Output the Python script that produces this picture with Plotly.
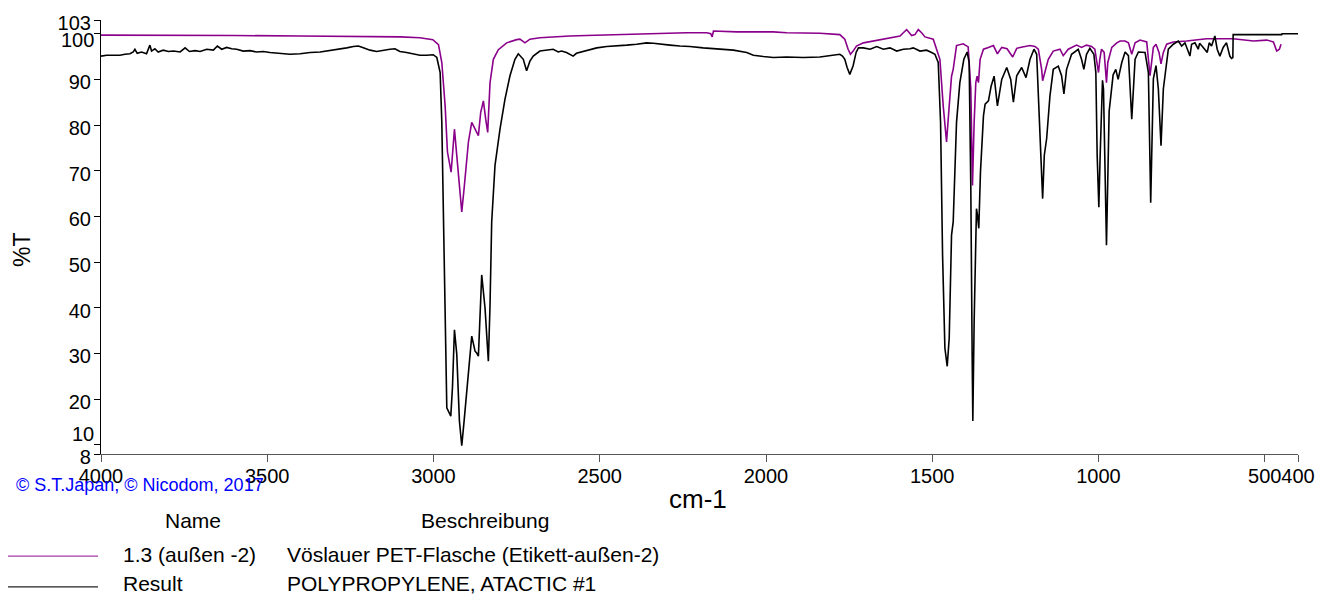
import plotly.graph_objects as go

# ---------------- data ----------------
# Sample "1.3 (außen -2)" (purple)
wn_sample = [4000, 3800, 3600, 3400, 3200, 3100, 3041, 3002, 2985, 2975, 2965, 2958, 2947, 2942,
             2937, 2930, 2922, 2915, 2908, 2895, 2885, 2875, 2865, 2858, 2850, 2843, 2837, 2830,
             2820, 2805, 2780, 2750, 2740, 2725, 2710, 2680, 2640, 2590, 2540, 2440, 2339, 2239,
             2178, 2166, 2162, 2158, 2088, 2038, 1978, 1938, 1838, 1778, 1763, 1753, 1746, 1738,
             1728, 1707, 1677, 1637, 1597, 1587, 1577, 1569, 1562, 1552, 1542, 1532, 1522, 1497,
             1477, 1467, 1457, 1449, 1442, 1437, 1427, 1407, 1392, 1384, 1379, 1374, 1369, 1365,
             1361, 1356, 1346, 1331, 1316, 1304, 1291, 1275, 1258, 1246, 1236, 1206, 1191, 1181,
             1171, 1168, 1161, 1151, 1136, 1116, 1106, 1091, 1066, 1051, 1036, 1021, 1011, 1004,
             1000, 996, 991, 983, 976, 972, 960, 945, 935, 920, 910, 900, 890, 875, 855, 845,
             835, 827, 818, 812, 805, 795, 775, 735, 675, 595, 534, 494, 474, 464, 456, 451]
t_sample = [99.7, 99.7, 99.6, 99.5, 99.4, 99.3, 99.1, 98.7, 97.6, 93.7, 84.2, 74.1, 69.7, 74.8,
            79.1, 73.3, 66.1, 61.0, 66.1, 76.3, 80.6, 79.1, 77.7, 82.8, 85.3, 81.3, 78.4, 89.3,
            94.4, 96.5, 98.0, 98.7, 98.8, 98.0, 98.8, 99.1, 99.3, 99.5, 99.6, 99.8, 100.1, 100.2,
            100.2, 100.0, 99.3, 100.6, 100.4, 100.4, 100.4, 100.2, 100.1, 99.8, 98.8, 96.6, 95.5, 96.2,
            97.3, 98.0, 98.4, 98.9, 99.5, 100.2, 100.9, 100.2, 99.6, 99.8, 100.9, 100.2, 99.3, 98.8,
            94.4, 84.2, 76.3, 84.2, 90.7, 92.2, 97.4, 97.8, 97.1, 87.9, 66.8, 80.6, 89.3, 90.7,
            89.3, 94.4, 96.6, 97.0, 97.4, 95.6, 97.0, 96.7, 94.9, 96.8, 97.0, 97.4, 97.2, 96.6,
            92.2, 89.7, 91.5, 94.4, 96.2, 96.6, 95.2, 96.6, 97.5, 97.0, 97.5, 97.2, 96.6, 93.7,
            91.5, 94.4, 96.6, 95.9, 89.3, 93.7, 97.0, 98.0, 98.4, 98.4, 98.0, 95.5, 98.0, 98.6, 98.2, 90.8,
            97.0, 97.7, 95.9, 93.4, 95.9, 97.7, 98.2, 98.4, 98.9, 98.9, 98.4, 98.6, 98.2, 96.2, 96.6, 97.7]

# Library reference "Result" (black)
wn_result = [4000, 3983, 3963, 3943, 3928, 3913, 3903, 3898, 3891, 3878, 3863, 3853, 3848, 3838,
             3828, 3813, 3797, 3782, 3762, 3747, 3734, 3717, 3702, 3682, 3662, 3650, 3637, 3622,
             3607, 3592, 3572, 3552, 3532, 3512, 3492, 3462, 3432, 3401, 3371, 3341, 3311, 3281,
             3261, 3241, 3226, 3211, 3191, 3171, 3151, 3131, 3116, 3101, 3081, 3061, 3041, 3021,
             3001, 2990, 2980, 2975, 2970, 2965, 2960, 2948, 2943, 2937, 2930, 2922, 2915, 2908,
             2895, 2885, 2875, 2870, 2865, 2860, 2855, 2845, 2835, 2830, 2825, 2815, 2800, 2785,
             2770, 2755, 2745, 2730, 2720, 2710, 2700, 2680, 2660, 2640, 2625, 2615, 2600, 2590,
             2580, 2570, 2555, 2540, 2509, 2479, 2449, 2419, 2389, 2359, 2339, 2319, 2289, 2259,
             2229, 2189, 2138, 2098, 2058, 2038, 2008, 1978, 1938, 1888, 1838, 1798, 1778, 1770,
             1763, 1756, 1748, 1738, 1729, 1722, 1707, 1687, 1667, 1647, 1627, 1607, 1587, 1567,
             1557, 1537, 1517, 1502, 1492, 1482, 1475, 1469, 1462, 1455, 1449, 1442, 1437, 1427,
             1417, 1405, 1395, 1389, 1384, 1380, 1378, 1374, 1370, 1367, 1364, 1360, 1355, 1346,
             1341, 1331, 1323, 1314, 1304, 1291, 1276, 1264, 1256, 1246, 1231, 1218, 1206, 1194,
             1186, 1178, 1171, 1168, 1163, 1156, 1146, 1136, 1121, 1111, 1104, 1096, 1081, 1061,
             1051, 1044, 1036, 1026, 1014, 1008, 1004, 999, 995, 988, 985, 981, 976, 968,
             956, 948, 941, 930, 920, 910, 900, 890, 880, 860, 850, 843, 835, 827,
             820, 812, 805, 790, 775, 760, 750, 740, 725, 720, 710, 700, 696, 685,
             673, 667, 660, 650, 643, 635, 625, 615, 605, 600, 596, 595, 449, 448, 400]
t_result = [95.1, 95.3, 95.3, 95.3, 95.5, 95.6, 96.0, 96.6, 95.7, 96.0, 95.6, 97.5, 96.2, 96.7,
            96.0, 96.4, 96.1, 96.2, 96.0, 96.9, 96.1, 96.3, 96.1, 96.6, 96.4, 97.3, 96.6, 97.0,
            96.7, 96.6, 96.2, 96.3, 96.0, 96.1, 95.9, 95.7, 95.5, 95.6, 95.9, 96.0, 96.3, 96.6,
            96.9, 97.2, 97.3, 96.9, 96.4, 96.1, 96.4, 96.6, 96.7, 96.1, 95.9, 95.6, 95.3, 95.3,
            95.4, 94.8, 91.5, 80.6, 58.8, 37.0, 18.1, 16.3, 22.5, 35.2, 29.8, 15.2, 9.8, 15.2,
            26.1, 33.8, 30.5, 30.1, 29.4, 37.0, 47.2, 39.9, 28.3, 40.6, 58.8, 71.2, 79.1, 85.7,
            90.8, 94.4, 95.6, 94.4, 91.9, 94.0, 95.1, 96.2, 96.4, 96.6, 96.0, 96.2, 95.9, 95.5,
            95.1, 95.7, 96.0, 96.2, 96.9, 97.2, 97.3, 97.5, 97.7, 98.0, 97.9, 97.7, 97.5, 97.3,
            97.2, 96.9, 96.7, 96.4, 95.9, 95.3, 95.0, 94.8, 94.9, 94.8, 94.9, 95.3, 95.5, 95.1,
            94.4, 92.6, 91.1, 93.0, 95.9, 96.9, 96.9, 96.6, 97.2, 96.6, 96.9, 96.2, 96.6, 96.7,
            96.9, 96.2, 96.4, 95.9, 95.5, 93.7, 80.6, 51.6, 31.2, 27.2, 33.4, 55.9, 58.8, 80.6,
            89.3, 94.4, 96.0, 93.7, 66.1, 29.8, 15.2, 37.0, 51.6, 61.7, 60.3, 57.4, 69.7, 82.0,
            84.6, 85.3, 88.5, 90.7, 84.2, 90.0, 92.6, 90.0, 85.0, 90.8, 92.6, 90.4, 94.4, 96.6,
            95.5, 80.6, 66.1, 63.9, 73.4, 77.0, 86.4, 92.2, 92.9, 90.8, 86.8, 92.2, 95.5, 96.6,
            94.4, 92.2, 95.5, 96.8, 95.5, 91.5, 73.4, 62.0, 73.4, 89.8, 87.9, 73.4, 53.7, 83.0,
            91.0, 92.2, 90.0, 93.7, 96.0, 95.2, 81.3, 94.4, 96.0, 95.9, 91.5, 63.0, 90.1, 93.0,
            87.9, 75.5, 87.9, 96.6, 97.7, 98.4, 97.3, 98.0, 95.1, 97.7, 98.0, 96.6, 97.9, 97.0,
            95.9, 98.0, 97.3, 99.5, 96.6, 95.1, 97.0, 98.0, 95.1, 94.6, 94.8, 99.8, 99.8, 100.0, 100.0]

x_ticks = [4000, 3500, 3000, 2500, 2000, 1500, 1000, 500, 400]
y_ticks = [8, 10, 20, 30, 40, 50, 60, 70, 80, 90, 100, 103]
y_ticktext = ["8", "", "20", "30", "40", "50", "60", "70", "80", "90", "", "103"]

names = ["1.3 (außen -2)", "Result"]
descriptions = ["Vöslauer PET-Flasche (Etikett-außen-2)", "POLYPROPYLENE, ATACTIC #1"]
colors = ["#8b008b", "#000000"]

FONT = "Liberation Sans, Arial, sans-serif"

fig = go.Figure()
fig.add_trace(go.Scatter(x=wn_sample, y=t_sample, mode="lines",
                         line=dict(color=colors[0], width=1.6), name=names[0]))
fig.add_trace(go.Scatter(x=wn_result, y=t_result, mode="lines",
                         line=dict(color=colors[1], width=1.6), name=names[1]))

# plot area: x 101..1298 px, y 16..454 px
L, R, T, B = 101, 1298, 16, 454
W, H = R - L, B - T


def px(x):
    return (x - L) / W


def py(y):
    return (B - y) / H


fig.update_layout(
    width=1331, height=601,
    margin=dict(l=L, r=1331 - R, t=T, b=601 - B, pad=0),
    paper_bgcolor="white", plot_bgcolor="white",
    showlegend=False,
    font=dict(family=FONT, size=20, color="black"),
    xaxis=dict(range=[4000, 400], tickmode="array", tickvals=x_ticks,
               ticktext=[str(v) for v in x_ticks], tickangle=0,
               showgrid=False, zeroline=False, showline=True, linecolor="#555555",
               linewidth=1.2, ticks="outside", ticklen=7, tickcolor="#555555",
               ticklabelstandoff=-3,
               tickfont=dict(family=FONT, size=20, color="black")),
    yaxis=dict(range=[8, 103], tickmode="array", tickvals=y_ticks, ticktext=y_ticktext,
               showgrid=False, zeroline=False, showline=True, linecolor="black",
               linewidth=1.2, ticks="outside", ticklen=6, tickcolor="black",
               ticklabelstandoff=-1, ticklabelshift=3,
               tickfont=dict(family=FONT, size=20, color="black")),
)

ann = []
# shifted y tick labels (as in the reference, to avoid overlap)
ann.append(dict(x=px(96), y=py(36), text="100", showarrow=False, xanchor="right", yanchor="middle",
                font=dict(size=20)))
ann.append(dict(x=px(96), y=py(434), text="10", showarrow=False, xanchor="right", yanchor="middle",
                font=dict(size=20)))
ann.append(dict(x=px(22), y=py(248), text="%T", textangle=-90, showarrow=False,
                xanchor="center", yanchor="middle", font=dict(size=23)))
ann.append(dict(x=px(698), y=py(499), text="cm-1", showarrow=False,
                xanchor="center", yanchor="middle", font=dict(size=26)))
ann.append(dict(x=px(14), y=py(485), text="© S.T.Japan, © Nicodom, 2017", showarrow=False,
                xanchor="left", yanchor="middle", font=dict(size=18, color="#0000ff")))
ann.append(dict(x=px(193), y=py(521), text="Name", showarrow=False,
                xanchor="center", yanchor="middle", font=dict(size=21)))
ann.append(dict(x=px(485), y=py(521), text="Beschreibung", showarrow=False,
                xanchor="center", yanchor="middle", font=dict(size=21)))
row_y = [555, 585]
for i in range(2):
    ann.append(dict(x=px(121), y=py(row_y[i]), text=names[i], showarrow=False,
                    xanchor="left", yanchor="middle", font=dict(size=21)))
    ann.append(dict(x=px(285), y=py(row_y[i]), text=descriptions[i], showarrow=False,
                    xanchor="left", yanchor="middle", font=dict(size=21)))
for a in ann:
    a.update(xref="paper", yref="paper")
    a.setdefault("font", {})
    a["font"].setdefault("family", FONT)
fig.update_layout(annotations=ann)

line_y = [557, 588]
shape_colors = ["#a23aa6", "#222222"]
for i in range(2):
    fig.add_shape(type="line", xref="paper", yref="paper",
                  x0=px(8), x1=px(98), y0=py(line_y[i]), y1=py(line_y[i]),
                  line=dict(color=shape_colors[i], width=1.3))

fig.write_html("out.html")
